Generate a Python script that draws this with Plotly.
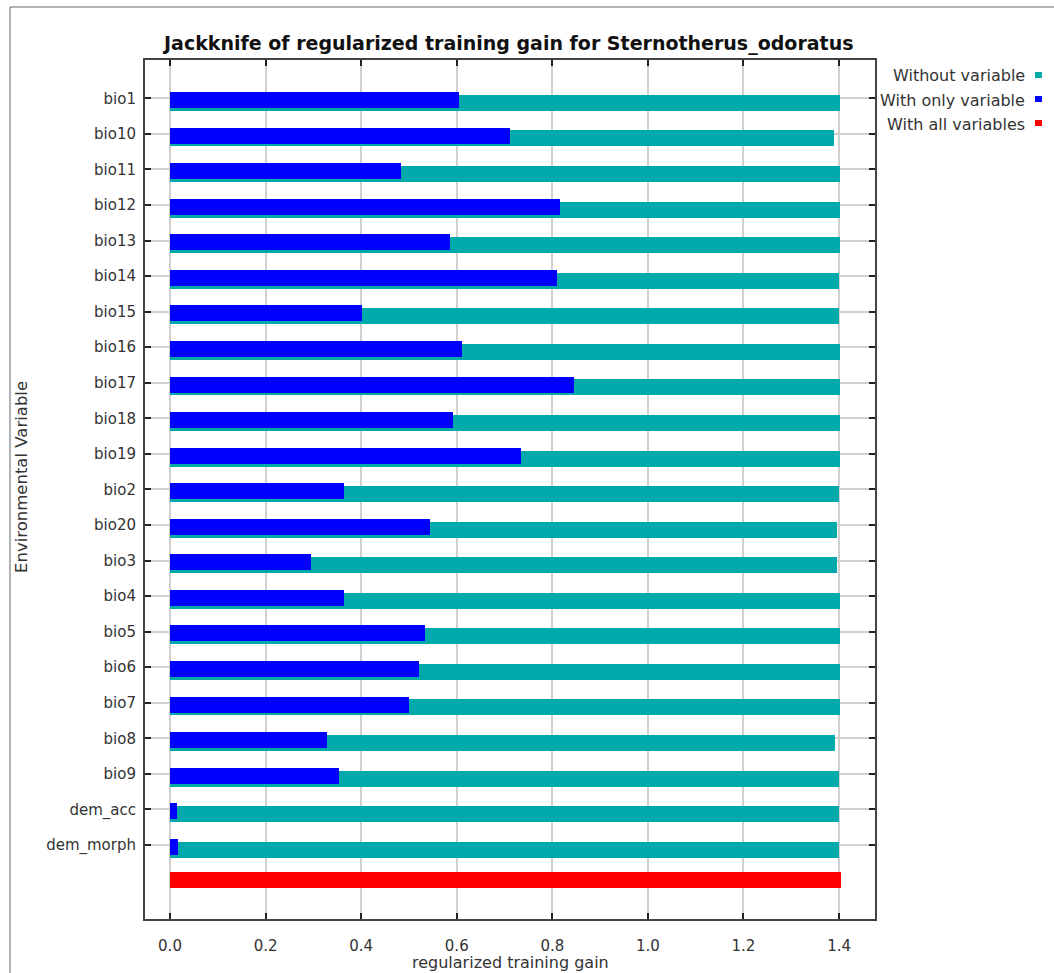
import plotly.graph_objects as go

# ---- data ----
variables = ["bio1", "bio10", "bio11", "bio12", "bio13", "bio14", "bio15", "bio16",
             "bio17", "bio18", "bio19", "bio2", "bio20", "bio3", "bio4", "bio5",
             "bio6", "bio7", "bio8", "bio9", "dem_acc", "dem_morph"]
without_variable = [1.401, 1.389, 1.401, 1.401, 1.401, 1.399, 1.399, 1.401,
                    1.401, 1.401, 1.401, 1.400, 1.395, 1.395, 1.401, 1.401,
                    1.401, 1.401, 1.392, 1.400, 1.399, 1.399]
with_only_variable = [0.604, 0.712, 0.483, 0.816, 0.586, 0.810, 0.402, 0.611,
                      0.845, 0.592, 0.734, 0.364, 0.544, 0.294, 0.364, 0.534,
                      0.522, 0.500, 0.329, 0.354, 0.015, 0.016]
with_all_variables = 1.405
x_ticks = [0.0, 0.2, 0.4, 0.6, 0.8, 1.0, 1.2, 1.4]

TEAL = "#00AAAA"
BLUE = "#0000FF"
RED = "#FF0000"
FONT = "DejaVu Sans, Liberation Sans, Arial, sans-serif"

W, H = 1054, 973
L, R, T, B = 145, 875, 60, 919
pw, ph = R - L, B - T

def px(x):
    return (x - L) / pw

def py(y):
    return (B - y) / ph

pos = list(range(len(variables)))
all_pos = len(variables)

fig = go.Figure()
fig.add_trace(go.Bar(y=pos, x=without_variable, orientation="h",
                     marker=dict(color=TEAL, line=dict(width=0)),
                     width=0.45, offset=-0.095, showlegend=False,
                     name="Without variable"))
fig.add_trace(go.Bar(y=pos, x=with_only_variable, orientation="h",
                     marker=dict(color=BLUE, line=dict(width=0)),
                     width=0.45, offset=-0.175, showlegend=False,
                     name="With only variable"))
fig.add_trace(go.Bar(y=[all_pos], x=[with_all_variables], orientation="h",
                     marker=dict(color=RED, line=dict(width=0)),
                     width=0.45, offset=-0.255, showlegend=False,
                     name="With all variables"))

fig.update_layout(
    width=W, height=H,
    margin=dict(l=L, r=W - R, t=T, b=H - B, pad=0),
    paper_bgcolor="white", plot_bgcolor="white",
    barmode="overlay", bargap=0,
    font=dict(family=FONT, size=15, color="#333333"),
    showlegend=False,
)
fig.update_xaxes(
    range=[-0.0523, 1.4752], tickvals=x_ticks,
    ticktext=[f"{v:.1f}" for v in x_ticks],
    showgrid=True, gridcolor="#D0D0D0", gridwidth=1.5, zeroline=False,
    showline=True, linecolor="#444444", linewidth=2, mirror="ticks",
    ticks="inside", ticklen=6, tickwidth=2, tickcolor="#222222",
    ticklabelstandoff=12,
    tickfont=dict(family=FONT, size=15, color="#333333"),
)
fig.update_yaxes(
    range=[23.08, -1.077], tickvals=pos, ticktext=variables,
    showgrid=True, gridcolor="#D0D0D0", gridwidth=1.5, zeroline=False,
    showline=True, linecolor="#444444", linewidth=2, mirror="ticks",
    ticks="inside", ticklen=6, tickwidth=2, tickcolor="#222222",
    ticklabelstandoff=4,
    tickfont=dict(family=FONT, size=15, color="#333333"),
)

ann = []
ann.append(dict(text="<b>Jackknife of regularized training gain for Sternotherus_odoratus</b>",
                x=px(508), y=py(44), xref="paper", yref="paper", showarrow=False,
                xanchor="center", yanchor="middle",
                font=dict(family=FONT, size=19, color="#111111")))
ann.append(dict(text="regularized training gain", x=px(510), y=py(962),
                xref="paper", yref="paper", showarrow=False,
                xanchor="center", yanchor="middle",
                font=dict(family=FONT, size=16, color="#333333")))
ann.append(dict(text="Environmental Variable", x=px(22), y=py(477),
                xref="paper", yref="paper", showarrow=False, textangle=-90,
                xanchor="center", yanchor="middle",
                font=dict(family=FONT, size=16.5, color="#333333")))

legend_items = [("Without variable", TEAL, 76), ("With only variable", BLUE, 100),
                ("With all variables", RED, 124)]
shapes = []
for label, col, yc in legend_items:
    ann.append(dict(text=label, x=px(1027), y=py(yc), xref="paper", yref="paper",
                    showarrow=False, xanchor="right", yanchor="middle",
                    font=dict(family=FONT, size=16, color="#333333")))
    shapes.append(dict(type="rect", xref="paper", yref="paper",
                       x0=px(1035), x1=px(1042), y0=py(yc - 4), y1=py(yc + 2),
                       fillcolor=col, line=dict(width=0)))

# outer frame
shapes.append(dict(type="line", xref="paper", yref="paper",
                   x0=px(10), x1=px(10), y0=py(7), y1=py(980),
                   line=dict(color="#666666", width=1)))
shapes.append(dict(type="line", xref="paper", yref="paper",
                   x0=px(10), x1=px(1060), y0=py(7), y1=py(7),
                   line=dict(color="#666666", width=1)))

fig.update_layout(annotations=ann, shapes=shapes)
fig.write_html("out.html", config={"displayModeBar": False},
               post_script="document.body.style.margin='0px';document.body.style.overflow='hidden';")
